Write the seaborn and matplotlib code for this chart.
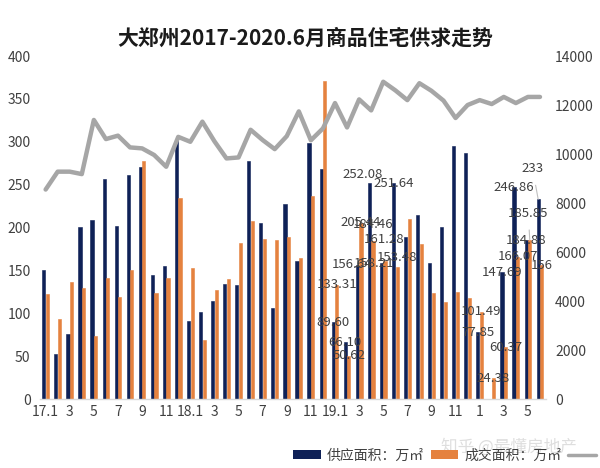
import numpy as np
import pandas as pd
import matplotlib
matplotlib.use("Agg")
import matplotlib.pyplot as plt
import seaborn as sns
from matplotlib.patches import Patch
from matplotlib.lines import Line2D

# ---------------- data ----------------
months = [f"{y}-{m:02d}" for y in (2017, 2018, 2019, 2020) for m in range(1, 13)][:42]
tick_labels = ["17.1", "3", "5", "7", "9", "11", "18.1", "3", "5", "7", "9", "11",
               "19.1", "3", "5", "7", "9", "11", "1", "3", "5"]

supply = [150, 52, 76, 201, 209, 256, 202, 261, 270, 145, 155, 302,
          91, 102, 114, 134, 133, 278, 205, 106, 228, 161, 299, 268,
          89.60, 66.10, 156.64, 252.08, 158.21, 251.64, 189, 215, 159, 201, 295, 287,
          77.85, 0, 147.69, 246.86, 184.88, 233]
deal = [123, 93, 136, 130, 74, 141, 119, 151, 278, 124, 141, 234,
        153, 69, 127, 140, 182, 208, 187, 185, 189, 164, 237, 371,
        133.31, 50.62, 205.44, 184.46, 161.28, 153.48, 210, 181, 124, 113, 125, 118,
        101.49, 24.38, 60.37, 166.07, 185.85, 156]
price = [8550, 9280, 9280, 9180, 11390, 10610, 10750, 10270, 10230, 9960, 9480, 10700,
         10500, 11320, 10520, 9820, 9860, 10990, 10570, 10200, 10730, 11740, 10560, 11045,
         12080, 11085, 12230, 11780, 12950, 12600, 12200, 12890, 12580, 12180, 11470, 12000,
         12200, 12040, 12330, 12080, 12330, 12330]

supply_labels = [None] * 24 + ["89.60", "66.10", "156.64", "252.08", "158.21", "251.64",
                               None, None, None, None, None, None,
                               "77.85", None, "147.69", "246.86", "184.88", "233"]
deal_labels = [None] * 24 + ["133.31", "50.62", "205.44", "184.46", "161.28", "153.48",
                             None, None, None, None, None, None,
                             "101.49", "24.38", "60.37", "166.07", "185.85", "156"]

s_supply = "供应面积：万㎡"
s_deal = "成交面积：万㎡"
s_price = "均价：元/㎡"
title = "大郑州2017-2020.6月商品住宅供求走势"

# ---------------- style ----------------
sns.set_theme(style="white")
plt.rcParams["font.family"] = ["Noto Sans CJK SC", "DejaVu Sans"]
plt.rcParams["axes.unicode_minus"] = False

NAVY = "#0F2157"
ORANGE = "#E5823F"
GRAY = "#A6A6A6"
TXT = "#404040"

df = pd.DataFrame({
    "month": months * 2,
    "series": [s_supply] * len(months) + [s_deal] * len(months),
    "value": supply + deal,
})
line_df = pd.DataFrame({"pos": np.arange(len(months)), "price": price})

fig = plt.figure(figsize=(6.0, 4.68), dpi=100)
ax = fig.add_axes([0.066, 0.1474, 0.844, 0.7329])

sns.barplot(data=df, x="month", y="value", hue="series", order=months,
            hue_order=[s_supply, s_deal], palette=[NAVY, ORANGE],
            width=0.6, gap=0.12, saturation=1, legend=False, ax=ax)
for cont in ax.containers:
    for bar in cont:
        bar.set_edgecolor(bar.get_facecolor())
        bar.set_linewidth(0.4)

ax2 = ax.twinx()
sns.lineplot(data=line_df, x="pos", y="price", color=GRAY, linewidth=3.2,
             ax=ax2, legend=False)

ax.set_xlim(-0.5, len(months) - 0.5)
ax.set_ylim(0, 400)
ax2.set_ylim(0, 14000)
ax.set_yticks(np.arange(0, 401, 50))
ax2.set_yticks(np.arange(0, 14001, 2000))
ax.set_xticks(np.arange(0, len(months), 2))
ax.set_xticklabels(tick_labels)

for a in (ax, ax2):
    a.set_xlabel("")
    a.set_ylabel("")
    for sp in a.spines.values():
        sp.set_visible(False)
ax.spines["bottom"].set_visible(True)
ax.spines["bottom"].set_color("#D9D9D9")
ax.spines["bottom"].set_linewidth(1)

ax.tick_params(axis="y", length=0, pad=6.5, labelsize=10, labelcolor=TXT)
ax2.tick_params(axis="y", length=0, pad=6.5, labelsize=10, labelcolor=TXT)
ax.tick_params(axis="x", length=0, pad=4, labelsize=10, labelcolor=TXT)
ax.grid(False)
ax2.grid(False)

# ---------------- data labels ----------------
offsets = {  # (series, index): (dx, dy) in points
    ("s", 26): (-4, 0), ("s", 27): (-5, 6), ("s", 28): (-5, 0),
    ("d", 27): (0, 12), ("d", 28): (-1, 15), ("d", 29): (0, 7),
    ("d", 40): (-1, 19), ("s", 41): (-4, 22),
}
for key, cont, labels in (("s", ax.containers[0], supply_labels),
                          ("d", ax.containers[1], deal_labels)):
    for i, (bar, lab) in enumerate(zip(cont, labels)):
        if lab is None:
            continue
        bx = bar.get_x() + bar.get_width() / 2
        by = bar.get_height()
        dx, dy = offsets.get((key, i), (0, 0))
        arrow = None
        if dy > 18:
            arrow = dict(arrowstyle="-", color="#BFBFBF", lw=0.8, shrinkA=5, shrinkB=0)
        ax.annotate(lab, xy=(bx, by), xytext=(dx, dy), textcoords="offset points",
                    ha="center", va="center", fontsize=9.5, color=TXT,
                    arrowprops=arrow, zorder=5)

# ---------------- title / legend ----------------
fig.text(0.508, 1 - 38 / 468, title, ha="center", va="center",
         fontsize=15, fontweight="bold", color="#1a1a1a")

handles = [Patch(facecolor=NAVY, edgecolor="none"),
           Patch(facecolor=ORANGE, edgecolor="none"),
           Line2D([0], [0], color=GRAY, lw=2.5)]
fig.legend(handles, [s_supply, s_deal, s_price], loc="center left",
           bbox_to_anchor=(0.468, 0.028), ncol=3, frameon=False, fontsize=10,
           handlelength=2.0, handleheight=0.6, columnspacing=0.5,
           handletextpad=0.4, labelcolor=TXT)

fig.text(0.735, 0.045, "知乎 @最懂房地产", fontsize=12, color="#D0D0D0",
         alpha=0.7, ha="left", va="center")

fig.savefig("out.png", dpi=100)
